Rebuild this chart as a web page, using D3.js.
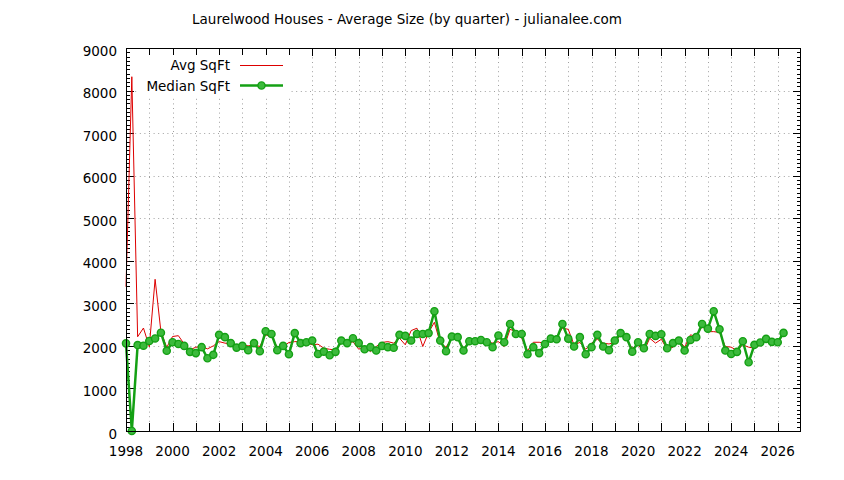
<!DOCTYPE html>
<html>
<head>
<meta charset="utf-8">
<script src="https://cdn.jsdelivr.net/npm/d3@7"></script>
<style>
  body { margin: 0; background: #fff; }
  svg { display: block; font-family: 'DejaVu Sans', sans-serif; }
</style>
</head>
<body>
<div class="line-chart-container"></div>
<script>
// quarterly series, first quarter = 1998 Q1
const firstYear = 1998;
const yearTicks = [1998, 2000, 2002, 2004, 2006, 2008, 2010, 2012, 2014, 2016, 2018, 2020, 2022, 2024, 2026];
const sqftTicks = [0, 1000, 2000, 3000, 4000, 5000, 6000, 7000, 8000, 9000];

const avgSqft = [
  3390, 8325, 2215, 2420,   // 1998
  1980, 3565, 2335, 1965,   // 1999
  2220, 2240, 2045, 1905,   // 2000
  1970, 1985, 1930, 2000,   // 2001
  2100, 2065, 2045, 2025,   // 2002
  2025, 2000, 2025, 1985,   // 2003
  2260, 2220, 1970, 1985,   // 2004
  2080, 2100, 2100, 2080,   // 2005
  2025, 2040, 1945, 1920,   // 2006
  1905, 2065, 2045, 2100,   // 2007
  1920, 2000, 1865, 1985,   // 2008
  2080, 2100, 2065, 2180,   // 2009
  2025, 2360, 2415, 1985,   // 2010
  2315, 2555, 2065, 1970,   // 2011
  2180, 2180, 1945, 2080,   // 2012
  2080, 2125, 2100, 2065,   // 2013
  2100, 1985, 2390, 2335,   // 2014
  2180, 1885, 2085, 2085,   // 2015
  2065, 2140, 2220, 2415,   // 2016
  2390, 2025, 2080, 1920,   // 2017
  2065, 2155, 2065, 2045,   // 2018
  2080, 2260, 2140, 1945,   // 2019
  2025, 1865, 2180, 2065,   // 2020
  2155, 1920, 1970, 2140,   // 2021
  1970, 2260, 2220, 2455,   // 2022
  2335, 2335, 2315, 1985,   // 2023
  1970, 1890, 2025, 1970,   // 2024
  1945, 2025, 2140, 2100,   // 2025
  2100, 2250                // 2026
];

const medianSqft = [
  2060,    0, 2020, 2005,   // 1998
  2115, 2175, 2310, 1885,   // 1999
  2085, 2045, 2000, 1860,   // 2000
  1830, 1970, 1710, 1790,   // 2001
  2260, 2205, 2065, 1960,   // 2002
  2000, 1900, 2065, 1875,   // 2003
  2345, 2280, 1900, 2000,   // 2004
  1805, 2300, 2065, 2085,   // 2005
  2125, 1810, 1865, 1780,   // 2006
  1860, 2125, 2065, 2180,   // 2007
  2065, 1920, 1970, 1890,   // 2008
  2000, 1970, 1955, 2260,   // 2009
  2235, 2125, 2280, 2280,   // 2010
  2300, 2815, 2125, 1875,   // 2011
  2220, 2205, 1890, 2110,   // 2012
  2110, 2140, 2085, 1970,   // 2013
  2245, 2085, 2515, 2280,   // 2014
  2280, 1805, 1970, 1830,   // 2015
  2045, 2170, 2155, 2515,   // 2016
  2170, 1985, 2205, 1805,   // 2017
  1970, 2260, 1985, 1900,   // 2018
  2125, 2300, 2205, 1865,   // 2019
  2085, 1945, 2280, 2235,   // 2020
  2275, 1945, 2065, 2125,   // 2021
  1890, 2140, 2205, 2515,   // 2022
  2405, 2815, 2390, 1890,   // 2023
  1810, 1860, 2110, 1615,   // 2024
  2025, 2080, 2165, 2095,   // 2025
  2085, 2305                // 2026
];

(function(){
    const svg_width = 844;
    const svg_height = 480;
    const plot = { left: 126, right: 801, top: 48, bottom: 431 };

    const svg = d3.select('.line-chart-container').append('svg')
        .attr('width', svg_width).attr('height', svg_height);

    // 季度 -> 年份小數
    const toSeries = values => values.map((v, i) => ({ date: firstYear + i / 4, value: v }));
    const series = [
        { name: 'Avg SqFt', color: '#dd0000', values: toSeries(avgSqft) },
        { name: 'Median SqFt', color: '#14a014', values: toSeries(medianSqft) }
    ];

    const xScale = d3.scaleLinear().domain([1998, 2027]).range([plot.left, plot.right]);
    const yScale = d3.scaleLinear().domain([0, 9000]).range([plot.bottom, plot.top]);

    const yearAll = d3.range(1998, 2027);
    const minorY = d3.range(0, 9001, 100).filter(d => d % 1000 !== 0);

    //grid
    const grid = svg.append('g').attr('class', 'grid')
        .style('stroke', '#a0a0a0').style('stroke-width', 1)
        .style('stroke-dasharray', '1,3.6');
    grid.selectAll('.vgrid').data(yearAll.slice(1)).enter()
        .append('line')
        .attr('x1', d => Math.round(xScale(d)) + 0.5).attr('x2', d => Math.round(xScale(d)) + 0.5)
        .attr('y1', plot.bottom).attr('y2', plot.top);
    grid.selectAll('.hgrid').data(sqftTicks.slice(1, -1)).enter()
        .append('line')
        .attr('x1', plot.left).attr('x2', plot.right)
        .attr('y1', d => Math.round(yScale(d)) + 0.5).attr('y2', d => Math.round(yScale(d)) + 0.5);

    //ticks on all four sides
    const ticks = svg.append('g').attr('class', 'ticks')
        .style('stroke', '#000').style('stroke-width', 1);
    const addXTicks = (y, dir) => ticks.append('g').selectAll('line').data(yearAll).enter()
        .append('line')
        .attr('x1', d => Math.round(xScale(d)) + 0.5).attr('x2', d => Math.round(xScale(d)) + 0.5)
        .attr('y1', y).attr('y2', y + dir * 8);
    addXTicks(plot.bottom, -1);
    addXTicks(plot.top, 1);
    const addYTicks = (x, dir, data, len) => ticks.append('g').selectAll('line').data(data).enter()
        .append('line')
        .attr('y1', d => Math.round(yScale(d)) + 0.5).attr('y2', d => Math.round(yScale(d)) + 0.5)
        .attr('x1', x).attr('x2', x + dir * len);
    addYTicks(plot.left, 1, sqftTicks, 8);
    addYTicks(plot.left, 1, minorY, 4);
    addYTicks(plot.right, -1, sqftTicks, 8);
    addYTicks(plot.right, -1, minorY, 4);

    //tick labels
    svg.append('g').selectAll('text').data(yearTicks).enter()
        .append('text')
        .attr('x', d => xScale(d)).attr('y', 456)
        .attr('text-anchor', 'middle')
        .style('font-size', '13.5px')
        .text(d => d);
    svg.append('g').selectAll('text').data(sqftTicks).enter()
        .append('text')
        .attr('x', 117).attr('y', d => yScale(d) + 7.5)
        .attr('text-anchor', 'end')
        .style('font-size', '13.5px')
        .text(d => d);

    //lines
    const lineGen = d3.line().x(d => xScale(d.date)).y(d => yScale(d.value));
    const chartGroup = svg.append('g').attr('class', 'line-chart');
    chartGroup.append('path')
        .attr('d', lineGen(series[0].values))
        .style('fill', 'none').style('stroke', series[0].color).style('stroke-width', 1);
    chartGroup.append('path')
        .attr('d', lineGen(series[1].values))
        .style('fill', 'none').style('stroke', series[1].color).style('stroke-width', 2.5)
        .style('stroke-linejoin', 'round');
    chartGroup.selectAll('.pt').data(series[1].values).enter()
        .append('circle')
        .attr('cx', d => xScale(d.date)).attr('cy', d => yScale(d.value))
        .attr('r', 3.6)
        .style('fill', '#3cba3c').style('stroke', series[1].color).style('stroke-width', 1.4);

    //legend (opaque key)
    const key = svg.append('g').attr('class', 'key');
    key.append('rect').attr('x', 138).attr('y', 55).attr('width', 152).attr('height', 41)
        .style('fill', '#fff');
    key.append('text').attr('x', 230).attr('y', 70).attr('text-anchor', 'end')
        .style('font-size', '13.5px').text(series[0].name);
    key.append('line').attr('x1', 240).attr('x2', 283).attr('y1', 65.5).attr('y2', 65.5)
        .style('stroke', series[0].color).style('stroke-width', 1);
    key.append('text').attr('x', 230).attr('y', 91).attr('text-anchor', 'end')
        .style('font-size', '13.5px').text(series[1].name);
    key.append('line').attr('x1', 240).attr('x2', 283).attr('y1', 85.5).attr('y2', 85.5)
        .style('stroke', series[1].color).style('stroke-width', 2.5);
    key.append('circle').attr('cx', 261.5).attr('cy', 85.5).attr('r', 3.6)
        .style('fill', '#3cba3c').style('stroke', series[1].color).style('stroke-width', 1.4);

    //border
    svg.append('rect')
        .attr('x', plot.left + 0.5).attr('y', plot.top + 0.5)
        .attr('width', plot.right - plot.left - 1).attr('height', plot.bottom - plot.top)
        .style('fill', 'none').style('stroke', '#000').style('stroke-width', 1);

    //title
    svg.append('text')
        .attr('x', 407).attr('y', 24)
        .attr('text-anchor', 'middle')
        .style('font-size', '13.5px')
        .text('Laurelwood Houses - Average Size (by quarter) - julianalee.com');
})();
</script>
</body>
</html>
